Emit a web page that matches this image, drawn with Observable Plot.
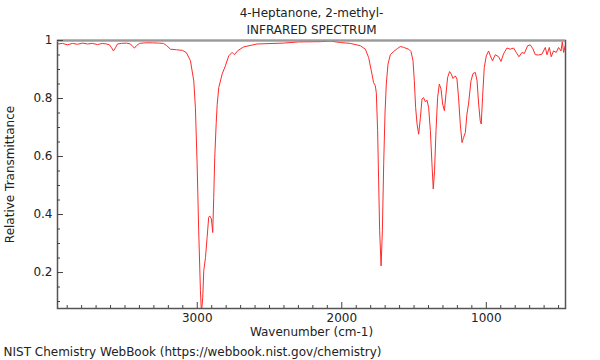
<!DOCTYPE html>
<html>
<head>
<meta charset="utf-8">
<script src="https://cdn.jsdelivr.net/npm/d3@7"></script>
<script src="https://cdn.jsdelivr.net/npm/@observablehq/plot@0.6"></script>
<style>
  html, body { margin: 0; padding: 0; background: #fff; }
  #chart { width: 600px; height: 360px; }
</style>
</head>
<body>
<div id="chart"></div>
<script>
// Wavenumbers (cm-1) and relative transmittance
const wavenumber = [3967,3932,3898,3863,3829,3794,3759,3725,3690,3656,3628,3607,3593,3580,3566,3552,3524,3490,3462,3448,3434,3421,3400,3358,3310,3268,3234,3213,3185,3144,3102,3075,3047,3024,3013,3001,2990,2978,2971,2962,2955,2943,2932,2921,2914,2902,2893,2886,2879,2869,2862,2851,2828,2805,2782,2759,2743,2720,2678,2586,2404,2300,2148,2079,2010,1941,1871,1837,1814,1791,1780,1768,1761,1752,1745,1738,1728,1719,1710,1701,1692,1680,1664,1641,1616,1595,1574,1560,1537,1521,1507,1498,1489,1479,1468,1456,1445,1434,1422,1410,1399,1387,1376,1367,1358,1348,1337,1325,1313,1302,1290,1279,1268,1254,1242,1230,1214,1203,1192,1180,1168,1157,1145,1134,1123,1106,1092,1076,1064,1053,1042,1035,1026,1014,1000,984,972,957,938,915,898,880,857,834,811,793,774,753,737,714,696,677,661,638,615,592,580,564,551,535,516,500,483,474,465,454];
const transmittance = [0.988,0.99,0.985,0.99,0.987,0.991,0.988,0.99,0.986,0.99,0.988,0.985,0.975,0.964,0.975,0.988,0.99,0.991,0.988,0.98,0.974,0.982,0.99,0.992,0.992,0.991,0.99,0.983,0.97,0.968,0.966,0.958,0.93,0.86,0.77,0.575,0.344,0.137,0.06,0.114,0.206,0.252,0.32,0.39,0.395,0.385,0.338,0.459,0.597,0.713,0.78,0.838,0.884,0.913,0.947,0.959,0.951,0.965,0.978,0.988,0.991,0.995,0.996,0.998,0.993,0.99,0.982,0.97,0.941,0.884,0.855,0.844,0.82,0.689,0.516,0.344,0.223,0.344,0.575,0.747,0.85,0.919,0.951,0.962,0.972,0.979,0.977,0.974,0.97,0.962,0.93,0.861,0.769,0.712,0.677,0.734,0.798,0.803,0.789,0.794,0.769,0.689,0.575,0.488,0.551,0.689,0.803,0.85,0.832,0.781,0.758,0.815,0.872,0.893,0.884,0.869,0.878,0.867,0.803,0.712,0.648,0.666,0.683,0.746,0.781,0.861,0.886,0.89,0.861,0.781,0.723,0.712,0.803,0.907,0.947,0.964,0.947,0.93,0.951,0.944,0.928,0.955,0.974,0.97,0.974,0.959,0.944,0.959,0.955,0.982,0.985,0.971,0.951,0.95,0.953,0.976,0.951,0.976,0.944,0.964,0.959,0.976,0.964,0.996,0.959,0.982];

const xMajorTicks = [3000, 2000, 1000];
const xMinorTicks = [3900,3800,3700,3600,3500,3400,3300,3200,3100,2900,2800,2700,2600,2500,2400,2300,2200,2100,1900,1800,1700,1600,1500,1400,1300,1200,1100,900,800,700,600,500];
const yMajorTicks = [0.2, 0.4, 0.6, 0.8, 1];
const yMinorTicks = [0.1, 0.15, 0.25, 0.3, 0.35, 0.45, 0.5, 0.55, 0.65, 0.7, 0.75, 0.85, 0.9, 0.95];
const xDomain = [3967, 452];
const yDomain = [0.076, 1.0];

const titleLines = ["4-Heptanone, 2-methyl-", "INFRARED SPECTRUM"];
const xLabel = "Wavenumber (cm-1)";
const yLabel = "Relative Transmittance";
const caption = "NIST Chemistry WebBook (https://webbook.nist.gov/chemistry)";

const data = wavenumber.map((w, i) => ({w, t: transmittance[i]}));

const W = 600, H = 360;
const mL = 57, mR = 35, mT = 40, mB = 52;
const plotW = W - mL - mR, plotH = H - mT - mB;

const chart = Plot.plot({
  width: W, height: H,
  marginLeft: mL, marginRight: mR, marginTop: mT, marginBottom: mB,
  style: {fontFamily: "DejaVu Sans", fontSize: "12px", color: "#222", background: "#fff"},
  x: {domain: xDomain, axis: null},
  y: {domain: yDomain, axis: null},
  marks: [
    Plot.line(data, {x: "w", y: "t", stroke: "#ff2a2a", strokeWidth: 1, clip: true}),
    // frame
    Plot.frame({stroke: "#555", strokeWidth: 1.5}),
    Plot.ruleY([yDomain[1]], {stroke: "#9a9a9a", strokeWidth: 2}),
    // inward ticks
    Plot.ruleX(xMinorTicks, {x: d => d, insetTop: plotH - 3, stroke: "#444"}),
    Plot.ruleX(xMajorTicks, {x: d => d, insetTop: plotH - 6, stroke: "#444"}),
    Plot.ruleY(yMinorTicks, {y: d => d, insetRight: plotW - 3, stroke: "#444"}),
    Plot.ruleY(yMajorTicks, {y: d => d, insetRight: plotW - 6, stroke: "#444"}),
    // tick labels
    Plot.axisX({ticks: xMajorTicks, tickSize: 0, tickPadding: 5, fontSize: 12, tickFormat: d => String(d), label: null}),
    Plot.axisY({ticks: yMajorTicks, tickSize: 0, tickPadding: 5, fontSize: 12, tickFormat: d => String(d), label: null}),
    // titles and labels
    Plot.text([titleLines[0]], {frameAnchor: "top", dy: -27, lineAnchor: "middle", fontSize: 12, fill: "#222"}),
    Plot.text([titleLines[1]], {frameAnchor: "top", dy: -10, lineAnchor: "middle", fontSize: 12, fill: "#222"}),
    Plot.text([xLabel], {frameAnchor: "bottom", dy: 24, lineAnchor: "middle", fontSize: 12, fill: "#222"}),
    Plot.text([yLabel], {frameAnchor: "left", dx: -47, rotate: -90, textAnchor: "middle", lineAnchor: "middle", fontSize: 12, fill: "#222"}),
    Plot.text([caption], {frameAnchor: "bottom-left", dx: -54, dy: 44, textAnchor: "start", lineAnchor: "middle", fontSize: 12, fill: "#222"})
  ]
});
document.getElementById("chart").appendChild(chart);
</script>
</body>
</html>
